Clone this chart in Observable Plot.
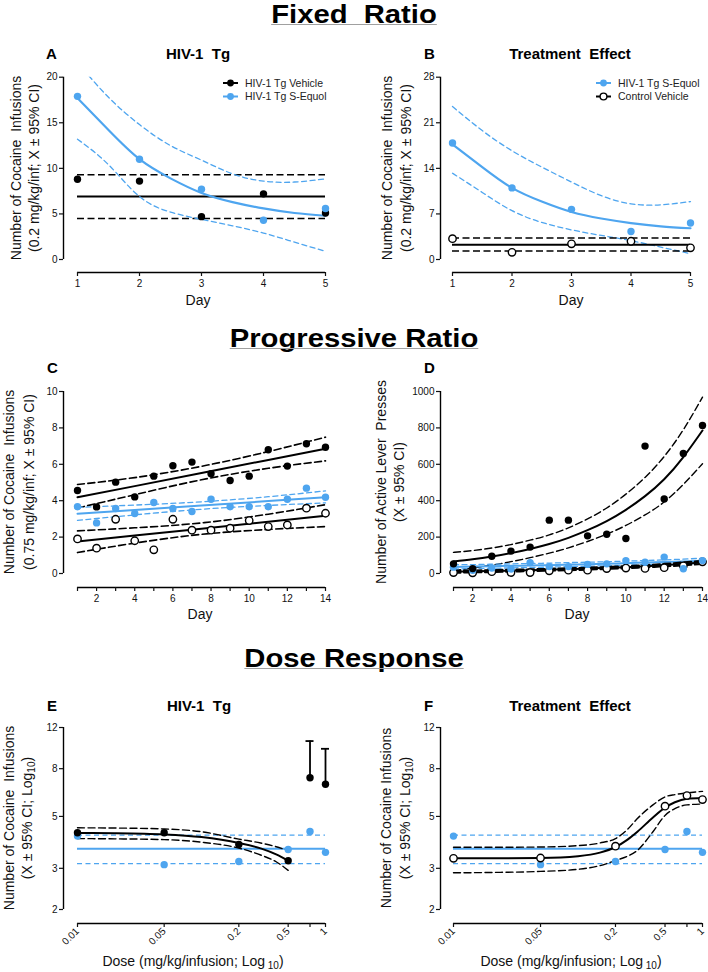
<!DOCTYPE html>
<html><head><meta charset="utf-8">
<script src="https://cdn.jsdelivr.net/npm/d3@7"></script>
<script src="https://cdn.jsdelivr.net/npm/@observablehq/plot@0.6"></script>
<style>
html,body{margin:0;padding:0;background:#fff;}
#fig{position:relative;width:708px;height:972px;overflow:hidden;background:#fff;}
text{white-space:pre;}
</style></head><body><div id="fig"></div>
<script>
const BLUE = "#4ea5ef";
const FONT = "'Liberation Sans', Arial, Helvetica, sans-serif";

// ---------- Fixed ratio (A, B) ----------
const frDays = [1, 2, 3, 4, 5];
const frVehicleTg = [8.8, 8.6, 4.7, 7.2, 5.1];
const frEquolTg = [17.9, 11.0, 7.7, 4.3, 5.6];
const frVehicleCtrl = [3.2, 1.1, 2.4, 2.8, 1.8];
const frVehicleTgMean = [6.9];
const frVehicleTgCI = [4.5, 9.3];
const frVehicleCtrlMean = [2.25];
const frVehicleCtrlCI = [1.3, 3.3];
const frFitDays = [1, 1.5, 2, 2.5, 3, 3.5, 4, 4.5, 5];
const frEquolFit = [17.7, 14.2, 11.0, 8.9, 7.3, 6.3, 5.6, 5.1, 4.8];
const frEquolUpperA = [21.6, 17.8, 14.8, 12.5, 10.9, 9.4, 8.6, 8.5, 8.85];
const frEquolLowerA = [13.2, 10.4, 6.9, 5.2, 4.4, 3.7, 2.9, 1.9, 0.9];
const frEquolUpperB = [23.5, 19.8, 16.7, 14.2, 11.9, 9.8, 8.55, 8.4, 8.9];
const frEquolLowerB = [13.25, 10.3, 7.5, 5.7, 4.55, 3.7, 2.9, 1.9, 0.9];
const frYTicksA = [0, 5, 10, 15, 20];
const frYTicksB = [0, 7, 14, 21, 28];

// ---------- Progressive ratio (C, D) ----------
const prDays = [1, 2, 3, 4, 5, 6, 7, 8, 9, 10, 11, 12, 13, 14];
const prInfVehicleTg = [4.56, 3.66, 5.02, 4.21, 5.35, 5.92, 6.12, 5.48, 5.11, 5.35, 6.8, 5.9, 7.13, 6.94];
const prInfEquolTg = [3.67, 2.78, 3.57, 3.3, 3.9, 3.57, 3.41, 4.08, 3.67, 3.67, 3.67, 4.08, 4.69, 4.19];
const prInfVehicleCtrl = [1.9, 1.39, 2.98, 1.8, 1.3, 2.98, 2.38, 2.38, 2.49, 2.91, 2.58, 2.67, 3.59, 3.31];
const prBandDays = [1, 4, 7.5, 11, 14];
const prInfVehicleTgFit = [4.19, 4.80, 5.52, 6.24, 6.85];
const prInfVehicleTgUpper = [4.89, 5.27, 5.89, 6.70, 7.49];
const prInfVehicleTgLower = [3.6, 4.33, 5.15, 5.78, 6.19];
const prInfEquolFit = [3.28, 3.49, 3.735, 3.98, 4.19];
const prInfEquolUpper = [3.63, 3.76, 3.94, 4.22, 4.54];
const prInfEquolLower = [2.92, 3.22, 3.53, 3.74, 3.88];
const prInfCtrlFit = [1.76, 2.09, 2.465, 2.84, 3.17];
const prInfCtrlUpper = [2.34, 2.51, 2.78, 3.26, 3.78];
const prInfCtrlLower = [1.15, 1.67, 2.15, 2.42, 2.58];

const prPressVehicleTg = [53, 27, 95, 123, 145, 293, 293, 207, 216, 192, 700, 410, 659, 813];
const prPressEquolTg = [35, 18, 30, 25, 60, 38, 38, 50, 53, 71, 62, 90, 26, 71];
const prPressVehicleCtrl = [5, 4, 10, 5, 5, 15, 18, 18, 27, 30, 28, 32, 42, 64];
const prPressVehicleTgFit = [66, 78, 93, 112, 135, 162, 196, 238, 288, 350, 425, 518, 640, 786];
const prPressVehicleTgUpper = [116, 126, 140, 159, 183, 212, 251, 300, 360, 436, 528, 643, 790, 969];
const prPressVehicleTgLower = [16, 30, 46, 65, 87, 112, 141, 176, 216, 264, 322, 393, 490, 603];
const prPressEquolFit = [36, 38, 40, 42, 44, 46, 49, 51, 54, 57, 60, 63, 66, 70];
const prPressEquolUpper = [48, 49, 51, 53, 55, 57, 60, 62, 65, 68, 71, 75, 79, 84];
const prPressEquolLower = [24, 27, 29, 31, 33, 35, 38, 40, 43, 46, 49, 51, 53, 56];
const prPressCtrlFit = [10, 12, 14, 16, 18, 21, 24, 27, 31, 35, 40, 46, 53, 61];
const prPressCtrlUpper = [16, 17, 19, 21, 23, 26, 29, 32, 36, 41, 46, 53, 61, 70];
const prPressCtrlLower = [4, 6, 8, 10, 13, 15, 18, 21, 25, 29, 34, 39, 45, 52];
const prYTicksC = [0, 2, 4, 6, 8, 10];
const prYTicksD = [0, 200, 400, 600, 800, 1000];

// ---------- Dose response (E, F) ----------
const drDoses = [0.01, 0.05, 0.2, 0.5, 0.75, 1];
const drDoseLabels = ["0.01", "0.05", "0.2", "0.5", "0.75", "1"];
const drVehicleTg = [4.26, 4.26, 3.79, 3.23, 7.32, 6.86];
const drEquolTg = [4.12, 3.11, 3.21, 3.61, 4.31, 3.51];
const drVehicleCtrl = [3.31, 3.32, 3.73, 5.53, 6.14, 5.9];
const drEquolMean = [3.64];
const drEquolCI = [3.14, 4.16];
const drVehTgFitDoses = [0.01, 0.02, 0.05, 0.1, 0.2, 0.3, 0.4, 0.5];
const drVehTgFit = [4.25, 4.24, 4.19, 4.08, 3.85, 3.65, 3.44, 3.23];
const drVehTgUpper = [4.47, 4.46, 4.42, 4.3, 4.0, 3.85, 3.71, 3.57];
const drVehTgLower = [4.02, 4.01, 3.98, 3.88, 3.66, 3.42, 3.2, 2.94];
const drErrDoses = [0.75, 1];
const drErrBase = [7.32, 6.86];
const drErrUpper = [10.5, 9.73];
const drCtrlFitDoses = [0.01, 0.02, 0.05, 0.1, 0.15, 0.2, 0.25, 0.3, 0.4, 0.5, 0.6, 0.75, 1];
const drCtrlFit = [3.31, 3.31, 3.32, 3.38, 3.5, 3.7, 3.98, 4.3, 4.95, 5.45, 5.75, 5.95, 6.0];
const drCtrlUpper = [3.69, 3.69, 3.7, 3.75, 3.85, 4.02, 4.4, 4.9, 5.6, 6.06, 6.2, 6.3, 6.4];
const drCtrlLower = [2.87, 2.88, 2.91, 2.97, 3.08, 3.24, 3.38, 3.58, 4.3, 5.05, 5.4, 5.6, 5.65];
const drYTicks = [2, 3, 5, 8, 12];

// ---------- helpers ----------
const fig = document.getElementById("fig");
const BDASH = "7,3.5", LDASH = "5,3.5";
const line = (xs, ys, o) => Plot.line(xs, {x: xs, y: ys, ...o});
const dots = (xs, ys, fill, open) => Plot.dot(xs, {x: xs, y: ys, r: 3.7, fill: open ? "#fff" : fill, stroke: open ? "#000" : "none", strokeWidth: 1.4});

function addPanel(p) {
  const chart = Plot.plot({
    width: p.width, height: p.height,
    marginLeft: p.mL, marginRight: p.mR, marginTop: p.mT, marginBottom: p.mB,
    style: {fontFamily: FONT, fontSize: "10px", color: "#111", background: "transparent", overflow: "visible"},
    x: p.x, y: p.y,
    marks: [
      Plot.ruleX([p.x.domain[0]], {dx: p.dx, stroke: "#000", strokeWidth: 1.4}),
      Plot.ruleY([p.y.domain[0]], {dy: p.dy, stroke: "#000", strokeWidth: 1.4}),
      Plot.axisY({ticks: p.yTicks, tickFormat: d => String(d), dx: p.dx, tickSize: 4, tickPadding: 2, label: null, strokeWidth: 1.2}),
      Plot.axisX({ticks: p.xTicks, tickFormat: p.xFormat || (d => String(d)), dy: p.dy, tickSize: 4, tickPadding: p.tickPadX ?? 3, tickRotate: p.rot || 0, label: null, strokeWidth: 1.2}),
      ...p.marks
    ]
  });
  chart.style.position = "absolute";
  chart.style.left = p.left + "px";
  chart.style.top = p.top + "px";
  fig.appendChild(chart);
}

// Panel A
addPanel({
  left: 0, top: 40, width: 354, height: 280, mL: 77, mR: 29, mT: 36.7, mB: 61, dx: -14, dy: 13,
  x: {domain: [1, 5]}, y: {domain: [0, 20]}, xTicks: frDays, yTicks: frYTicksA,
  marks: [
    Plot.ruleY(frVehicleTgCI, {x1: frDays[0], x2: frDays[4], stroke: "#000", strokeWidth: 1.6, strokeDasharray: BDASH}),
    Plot.ruleY(frVehicleTgMean, {x1: frDays[0], x2: frDays[4], stroke: "#000", strokeWidth: 2}),
    line(frFitDays, frEquolUpperA, {stroke: BLUE, strokeWidth: 1.3, strokeDasharray: LDASH, curve: "natural", clip: true}),
    line(frFitDays, frEquolLowerA, {stroke: BLUE, strokeWidth: 1.3, strokeDasharray: LDASH, curve: "natural"}),
    line(frFitDays, frEquolFit, {stroke: BLUE, strokeWidth: 2.2, curve: "natural"}),
    dots(frDays, frVehicleTg, "#000"),
    dots(frDays, frEquolTg, BLUE)
  ]
});

// Panel B
addPanel({
  left: 354, top: 40, width: 354, height: 280, mL: 98, mR: 18, mT: 36.7, mB: 61, dx: -12, dy: 13,
  x: {domain: [1, 5]}, y: {domain: [0, 28]}, xTicks: frDays, yTicks: frYTicksB,
  marks: [
    line(frFitDays, frEquolUpperB, {stroke: BLUE, strokeWidth: 1.3, strokeDasharray: LDASH, curve: "natural"}),
    line(frFitDays, frEquolLowerB, {stroke: BLUE, strokeWidth: 1.3, strokeDasharray: LDASH, curve: "natural"}),
    line(frFitDays, frEquolFit, {stroke: BLUE, strokeWidth: 2.2, curve: "natural"}),
    Plot.ruleY(frVehicleCtrlCI, {x1: frDays[0], x2: frDays[4], stroke: "#000", strokeWidth: 1.6, strokeDasharray: BDASH}),
    Plot.ruleY(frVehicleCtrlMean, {x1: frDays[0], x2: frDays[4], stroke: "#000", strokeWidth: 2}),
    dots(frDays, frEquolTg, BLUE),
    dots(frDays, frVehicleCtrl, "#000", true)
  ]
});

// Panel C
addPanel({
  left: 0, top: 370, width: 354, height: 260, mL: 77, mR: 29, mT: 21, mB: 57, dx: -14, dy: 14,
  x: {domain: [1, 14]}, y: {domain: [0, 10]}, xTicks: prDays, xFormat: d => d % 2 ? "" : String(d), yTicks: prYTicksC,
  marks: [
    line(prBandDays, prInfVehicleTgUpper, {stroke: "#000", strokeWidth: 1.6, strokeDasharray: BDASH, curve: "natural"}),
    line(prBandDays, prInfVehicleTgLower, {stroke: "#000", strokeWidth: 1.6, strokeDasharray: BDASH, curve: "natural"}),
    line(prBandDays, prInfVehicleTgFit, {stroke: "#000", strokeWidth: 2}),
    line(prBandDays, prInfCtrlUpper, {stroke: "#000", strokeWidth: 1.6, strokeDasharray: BDASH, curve: "natural"}),
    line(prBandDays, prInfCtrlLower, {stroke: "#000", strokeWidth: 1.6, strokeDasharray: BDASH, curve: "natural"}),
    line(prBandDays, prInfCtrlFit, {stroke: "#000", strokeWidth: 2}),
    line(prBandDays, prInfEquolUpper, {stroke: BLUE, strokeWidth: 1.3, strokeDasharray: LDASH, curve: "natural"}),
    line(prBandDays, prInfEquolLower, {stroke: BLUE, strokeWidth: 1.3, strokeDasharray: LDASH, curve: "natural"}),
    line(prBandDays, prInfEquolFit, {stroke: BLUE, strokeWidth: 2}),
    dots(prDays, prInfVehicleTg, "#000"),
    dots(prDays, prInfEquolTg, BLUE),
    dots(prDays, prInfVehicleCtrl, "#000", true)
  ]
});

// Panel D
addPanel({
  left: 354, top: 370, width: 354, height: 260, mL: 99, mR: 6, mT: 21, mB: 57, dx: -13, dy: 14,
  x: {domain: [1, 14]}, y: {domain: [0, 1000]}, xTicks: prDays, xFormat: d => d % 2 ? "" : String(d), yTicks: prYTicksD,
  marks: [
    line(prDays, prPressVehicleTgUpper, {stroke: "#000", strokeWidth: 1.4, strokeDasharray: BDASH, curve: "natural"}),
    line(prDays, prPressVehicleTgLower, {stroke: "#000", strokeWidth: 1.4, strokeDasharray: BDASH, curve: "natural"}),
    line(prDays, prPressVehicleTgFit, {stroke: "#000", strokeWidth: 2, curve: "natural"}),
    line(prDays, prPressEquolUpper, {stroke: BLUE, strokeWidth: 1.3, strokeDasharray: LDASH, curve: "natural"}),
    line(prDays, prPressEquolLower, {stroke: BLUE, strokeWidth: 1.3, strokeDasharray: LDASH, curve: "natural"}),
    line(prDays, prPressEquolFit, {stroke: BLUE, strokeWidth: 2, curve: "natural"}),
    line(prDays, prPressCtrlUpper, {stroke: "#000", strokeWidth: 2, strokeDasharray: BDASH, curve: "natural"}),
    line(prDays, prPressCtrlLower, {stroke: "#000", strokeWidth: 2, strokeDasharray: BDASH, curve: "natural"}),
    line(prDays, prPressCtrlFit, {stroke: "#000", strokeWidth: 2, curve: "natural"}),
    dots(prDays, prPressVehicleCtrl, "#000", true),
    dots(prDays, prPressEquolTg, BLUE),
    dots(prDays, prPressVehicleTg, "#000")
  ]
});

// Panel E
addPanel({
  left: 0, top: 690, width: 354, height: 282, mL: 77, mR: 29, mT: 37, mB: 63, dx: -14, dy: 14,
  x: {type: "log", domain: [0.01, 1]}, y: {type: "log", domain: [2, 12]},
  xTicks: drDoses, xFormat: d => drDoseLabels[drDoses.indexOf(d)], rot: -45, tickPadX: 2, yTicks: drYTicks,
  marks: [
    Plot.ruleY(drEquolCI, {x1: drDoses[0], x2: drDoses[5], stroke: BLUE, strokeWidth: 1.3, strokeDasharray: LDASH}),
    Plot.ruleY(drEquolMean, {x1: drDoses[0], x2: drDoses[5], stroke: BLUE, strokeWidth: 2}),
    line(drVehTgFitDoses, drVehTgUpper, {stroke: "#000", strokeWidth: 1.4, strokeDasharray: BDASH, curve: "monotone-x"}),
    line(drVehTgFitDoses, drVehTgLower, {stroke: "#000", strokeWidth: 1.4, strokeDasharray: BDASH, curve: "monotone-x"}),
    line(drVehTgFitDoses, drVehTgFit, {stroke: "#000", strokeWidth: 2, curve: "monotone-x"}),
    Plot.ruleX(drErrDoses, {x: drErrDoses, y1: drErrBase, y2: drErrUpper, stroke: "#000", strokeWidth: 1.8}),
    Plot.ruleY(drErrDoses, {y: drErrUpper, x1: drErrDoses, x2: drErrDoses, insetLeft: -4, insetRight: -4, stroke: "#000", strokeWidth: 1.8}),
    dots(drDoses, drEquolTg, BLUE),
    dots(drDoses, drVehicleTg, "#000")
  ]
});

// Panel F
addPanel({
  left: 354, top: 690, width: 354, height: 282, mL: 99, mR: 6, mT: 37, mB: 63, dx: -13, dy: 14,
  x: {type: "log", domain: [0.01, 1]}, y: {type: "log", domain: [2, 12]},
  xTicks: drDoses, xFormat: d => drDoseLabels[drDoses.indexOf(d)], rot: -45, tickPadX: 2, yTicks: drYTicks,
  marks: [
    Plot.ruleY(drEquolCI, {x1: drDoses[0], x2: drDoses[5], stroke: BLUE, strokeWidth: 1.3, strokeDasharray: LDASH}),
    Plot.ruleY(drEquolMean, {x1: drDoses[0], x2: drDoses[5], stroke: BLUE, strokeWidth: 2}),
    line(drCtrlFitDoses, drCtrlUpper, {stroke: "#000", strokeWidth: 1.4, strokeDasharray: BDASH, curve: "monotone-x"}),
    line(drCtrlFitDoses, drCtrlLower, {stroke: "#000", strokeWidth: 1.4, strokeDasharray: BDASH, curve: "monotone-x"}),
    line(drCtrlFitDoses, drCtrlFit, {stroke: "#000", strokeWidth: 2, curve: "monotone-x"}),
    dots(drDoses, drEquolTg, BLUE),
    dots(drDoses, drVehicleCtrl, "#000", true)
  ]
});

// ---------- overlay text: titles, letters, axis labels, legends ----------
const ov = d3.select(fig).append("svg")
  .attr("width", 708).attr("height", 972)
  .style("position", "absolute").style("left", "0px").style("top", "0px")
  .style("pointer-events", "none")
  .attr("font-family", FONT).attr("fill", "#111");

const sectionTitles = [
  {text: "Fixed  Ratio", y: 23},
  {text: "Progressive Ratio", y: 347},
  {text: "Dose Response", y: 667}
];
sectionTitles.forEach(t => {
  const g = ov.append("g").attr("transform", `translate(354,${t.y}) scale(1.17,1)`);
  const tx = g.append("text").attr("text-anchor", "middle").attr("font-size", 25).attr("font-weight", "bold")
    .attr("fill", "#000").attr("xml:space", "preserve").text(t.text);
  const w = tx.node().getComputedTextLength();
  g.append("line").attr("x1", -w / 2).attr("x2", w / 2).attr("y1", 1.5).attr("y2", 1.5)
    .attr("stroke", "#a0a0a0").attr("stroke-width", 1);
});

const letters = [["A", 46, 59], ["B", 424, 59], ["C", 47, 373], ["D", 424, 373], ["E", 47, 711], ["F", 424, 711]];
letters.forEach(([s, x, y]) => ov.append("text").attr("x", x).attr("y", y).attr("font-size", 15).attr("font-weight", "bold").attr("fill", "#000").text(s));

const panelTitles = [["HIV-1  Tg", 198, 59], ["Treatment  Effect", 570, 59], ["HIV-1  Tg", 199, 711], ["Treatment  Effect", 570, 711]];
panelTitles.forEach(([s, x, y]) => ov.append("text").attr("x", x).attr("y", y).attr("text-anchor", "middle")
  .attr("font-size", 15).attr("font-weight", "bold").attr("fill", "#000").attr("xml:space", "preserve").text(s));

const yLabels = [
  {lines: ["Number of Cocaine  Infusions", "(0.2 mg/kg/inf; X ± 95% CI)"], b: [20.5, 39], cy: 168},
  {lines: ["Number of Cocaine  Infusions", "(0.2 mg/kg/inf; X ± 95% CI)"], b: [392, 411], cy: 168},
  {lines: ["Number of Cocaine  Infusions", "(0.75 mg/kg/inf; X ± 95% CI)"], b: [14, 34], cy: 482},
  {lines: ["Number of Active Lever  Presses", "(X ± 95% CI)"], b: [386, 404], cy: 482},
  {lines: ["Number of Cocaine  Infusions", "(X ± 95% CI; Log"], b: [13.5, 32], cy: 818, sub: true},
  {lines: ["Number of Cocaine Infusions", "(X ± 95% CI; Log"], b: [391, 409.5], cy: 818, sub: true}
];
yLabels.forEach(L => {
  L.lines.forEach((s, i) => {
    const t = ov.append("text").attr("transform", `translate(${L.b[i]},${L.cy}) rotate(-90)`)
      .attr("text-anchor", "middle").attr("font-size", 14).attr("xml:space", "preserve");
    t.append("tspan").text(s);
    if (L.sub && i === 1) {
      t.append("tspan").attr("font-size", 10).attr("dy", 3).text("10");
      t.append("tspan").attr("dy", -3).text(")");
    }
  });
});

const xLabels = [
  {text: "Day", x: 198, y: 305}, {text: "Day", x: 571, y: 305},
  {text: "Day", x: 200, y: 619}, {text: "Day", x: 577, y: 619},
  {text: "Dose (mg/kg/infusion; Log", x: 193, y: 966, sub: true},
  {text: "Dose (mg/kg/infusion; Log", x: 571, y: 966, sub: true}
];
xLabels.forEach(L => {
  const t = ov.append("text").attr("x", L.x).attr("y", L.y).attr("text-anchor", "middle").attr("font-size", 14).attr("xml:space", "preserve");
  t.append("tspan").text(L.text);
  if (L.sub) {
    t.append("tspan").attr("font-size", 10).attr("dy", 3).text(" 10");
    t.append("tspan").attr("dy", -3).text(")");
  }
});

const legends = [
  {x0: 223, x1: 238, tx: 245, rows: [
    {y: 83, label: "HIV-1 Tg Vehicle", stroke: "#000", fill: "#000"},
    {y: 96.5, label: "HIV-1 Tg S-Equol", stroke: BLUE, fill: BLUE}]},
  {x0: 596, x1: 611, tx: 618, rows: [
    {y: 83, label: "HIV-1 Tg S-Equol", stroke: BLUE, fill: BLUE},
    {y: 96.5, label: "Control Vehicle", stroke: "#000", fill: "#fff"}]}
];
legends.forEach(Lg => Lg.rows.forEach(r => {
  ov.append("line").attr("x1", Lg.x0).attr("x2", Lg.x1).attr("y1", r.y).attr("y2", r.y).attr("stroke", r.stroke).attr("stroke-width", 2);
  ov.append("circle").attr("cx", (Lg.x0 + Lg.x1) / 2).attr("cy", r.y).attr("r", 3.4).attr("fill", r.fill).attr("stroke", r.fill === "#fff" ? "#000" : "none").attr("stroke-width", 1.4);
  ov.append("text").attr("x", Lg.tx).attr("y", r.y + 3.8).attr("font-size", 10.5).attr("fill", "#222").text(r.label);
}));
</script>
</body></html>
